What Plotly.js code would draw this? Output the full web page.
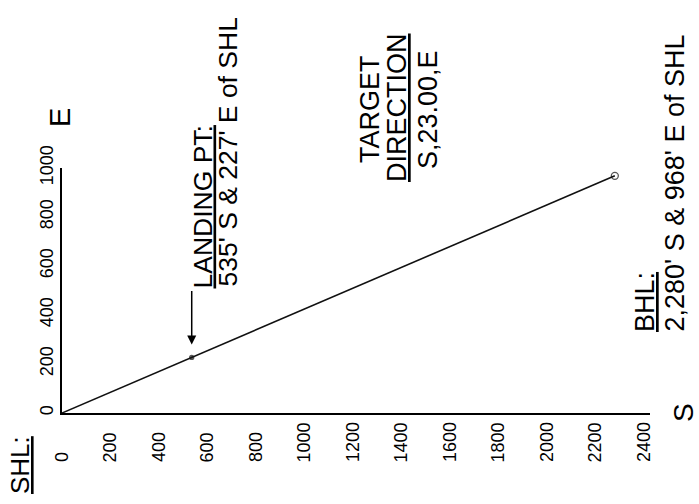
<!DOCTYPE html>
<html>
<head>
<meta charset="utf-8">
<script src="https://cdn.plot.ly/plotly-3.0.1.min.js"></script>
<style>html,body{margin:0;padding:0;background:#fff;}</style>
</head>
<body>
<div id="chart" style="width:699px;height:504px;"></div>
<script>
// Well plan view: feet south (S) and east (E) of the surface hole location (SHL)
const pointNames = ['SHL', 'LANDING PT', 'BHL'];
const southFt = [0, 535, 2280];
const eastFt = [0, 227, 968];

// Axis tick labels
const sTickVals = [0, 200, 400, 600, 800, 1000, 1200, 1400, 1600, 1800, 2000, 2200, 2400];
const sTickText = ['0', '200', '400', '600', '800', '1000', '1200', '1400', '1600', '1800', '2000', '2200', '2400'];
const eTickVals = [0, 200, 400, 600, 800, 1000];
const eTickText = ['0', '200', '400', '600', '800', '1000'];

// Annotation texts
const labelLanding = ['<u>LANDING PT:</u>', "535' S & 227' E of SHL"];
const labelTarget = ['TARGET', '<u>DIRECTION</u>', 'S,23.00,E'];
const labelBHL = ['<u>BHL:</u>', "2,280' S & 968' E of SHL"];
const labelSHL = '<u>SHL:</u>';
const axisNameS = 'S';
const axisNameE = 'E';

const FONT = 'Liberation Sans, Arial, Helvetica, sans-serif';
const L = 62, T = 168, W = 588, H = 245;
const px = x => (x - L) / W;
const py = y => (T + H - y) / H;

function rotText(text, x, y, size, yanchor) {
  return {
    text: text, xref: 'paper', yref: 'paper', x: px(x), y: py(y),
    xanchor: 'center', yanchor: yanchor, textangle: -90, showarrow: false,
    font: {family: FONT, size: size, color: '#000'}
  };
}

const annotations = [];
// S-axis tick labels (bottom-aligned, reading upward)
sTickVals.forEach((v, i) => {
  annotations.push({
    text: sTickText[i], xref: 'x', x: v, yref: 'paper', y: py(464),
    xanchor: 'center', yanchor: 'bottom', textangle: -90, showarrow: false,
    font: {family: FONT, size: 18, color: '#000'}
  });
});
annotations.push(rotText(labelLanding[0], 202, 291, 26.5, 'bottom'));
annotations.push(rotText(labelLanding[1], 227, 289, 26.5, 'bottom'));
annotations.push(rotText(labelTarget[0], 370, 109, 27, 'middle'));
annotations.push(rotText(labelTarget[1], 397, 108, 27, 'middle'));
annotations.push(rotText(labelTarget[2], 428, 110, 27, 'middle'));
annotations.push(rotText(labelBHL[0], 645, 334, 27, 'bottom'));
annotations.push(rotText(labelBHL[1], 674, 334, 27, 'bottom'));
annotations.push(rotText(labelSHL, 20, 496, 26, 'bottom'));
annotations.push(rotText(axisNameE, 60, 118, 29, 'middle'));
annotations.push(rotText(axisNameS, 683, 412, 28, 'middle'));
// Arrow pointing at the landing point
annotations.push({
  text: '', xref: 'x', yref: 'y', x: southFt[1], y: eastFt[1],
  showarrow: true, ax: 0, ay: -68, axref: 'pixel', ayref: 'pixel',
  arrowhead: 2, arrowsize: 1.2, arrowwidth: 1.5, arrowcolor: '#000', standoff: 13
});

const trace = {
  x: southFt, y: eastFt, text: pointNames, type: 'scatter', mode: 'lines+markers',
  line: {color: '#111', width: 1.6},
  marker: {symbol: ['circle', 'circle', 'circle-open'], size: [0, 4, 7], color: '#111', line: {color: '#111', width: 1.3}},
  hoverinfo: 'text+x+y', showlegend: false
};

const layout = {
  width: 699, height: 504,
  margin: {l: L, r: 699 - L - W, t: T, b: 504 - T - H, pad: 0},
  paper_bgcolor: '#fff', plot_bgcolor: '#fff',
  font: {family: FONT, color: '#000'},
  showlegend: false,
  xaxis: {
    range: [0, 2425], showline: true, linecolor: '#000', linewidth: 2,
    showgrid: false, zeroline: false, ticks: '', showticklabels: false, fixedrange: true
  },
  yaxis: {
    range: [0, 1000], showline: true, linecolor: '#000', linewidth: 2,
    showgrid: false, zeroline: false, ticks: '',
    tickvals: eTickVals, ticktext: eTickText, tickangle: -90,
    tickfont: {family: FONT, size: 18, color: '#000'}, fixedrange: true
  },
  annotations: annotations
};

Plotly.newPlot('chart', [trace], layout, {displayModeBar: false, staticPlot: true});
</script>
</body>
</html>
